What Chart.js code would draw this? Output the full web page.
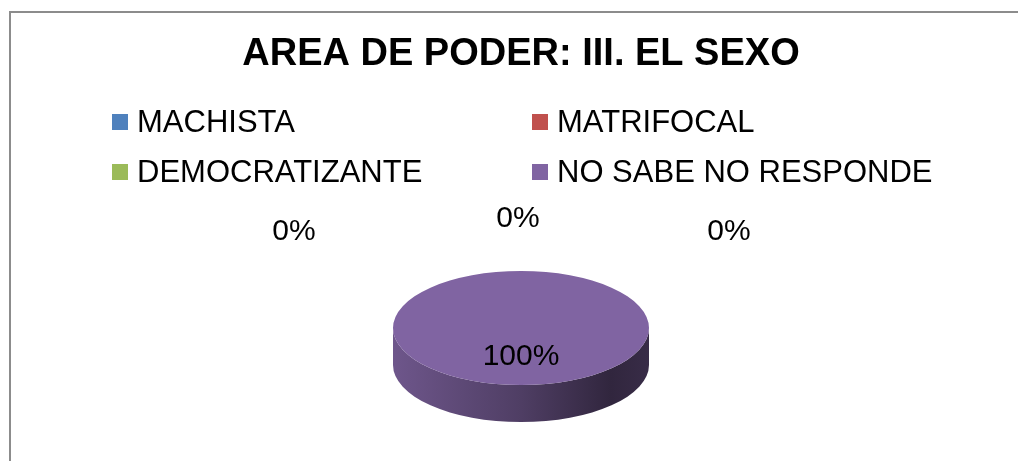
<!DOCTYPE html>
<html>
<head>
<meta charset="utf-8">
<script src="https://cdn.jsdelivr.net/npm/chart.js@4.4.1/dist/chart.umd.min.js"></script>
<style>
  html, body { margin: 0; padding: 0; background: #fff; }
  #wrap { position: relative; width: 1018px; height: 461px; overflow: hidden; }
  #frame { position: absolute; left: 9px; top: 11px; width: 1100px; height: 600px;
           border-left: 2px solid #8c8c8c; border-top: 2px solid #8c8c8c; pointer-events: none; }
  canvas { position: absolute; left: 0; top: 0; }
</style>
</head>
<body>
<div id="wrap">
  <canvas id="c" width="1018" height="461"></canvas>
  <div id="frame"></div>
</div>
<script>
// ---- data ----
const titleText = 'AREA DE PODER: III. EL SEXO';
const categories = ['MACHISTA', 'MATRIFOCAL', 'DEMOCRATIZANTE', 'NO SABE NO RESPONDE'];
const values = [0, 0, 0, 100];
const sliceColors = ['#4F81BD', '#C0504D', '#9BBB59', '#8064A2'];

// ---- look ----
const FONT = '"Liberation Sans", Arial, Helvetica, sans-serif';
const TILT = 57 / 128;      // vertical squash of the pie
const DEPTH = 37;           // side thickness in screen px

function shade(hex, f) {
  const n = parseInt(hex.slice(1), 16);
  const r = Math.round(((n >> 16) & 255) * f), g = Math.round(((n >> 8) & 255) * f), b = Math.round((n & 255) * f);
  return `rgb(${r},${g},${b})`;
}

const pie3d = {
  id: 'pie3d',
  beforeDatasetsDraw(chart) {
    const ctx = chart.ctx;
    const meta = chart.getDatasetMeta(0);
    const a0 = meta.data[0];
    const cx = a0.x, cy = a0.y;
    ctx.save();
    ctx.translate(0, cy);
    ctx.scale(1, TILT);
    ctx.translate(0, -cy);
    const D = DEPTH / TILT;
    meta.data.forEach((arc, i) => {
      const s = arc.startAngle, e = arc.endAngle, r = arc.outerRadius;
      if (e - s <= 0) return;
      const TWO = Math.PI * 2;
      for (let k = Math.floor(s / TWO) - 1; k <= Math.floor(e / TWO) + 1; k++) {
        const a = Math.max(s, TWO * k), b = Math.min(e, TWO * k + Math.PI);
        if (b <= a) continue;
        const g = ctx.createLinearGradient(cx - r, 0, cx + r, 0);
        const base = sliceColors[i];
        g.addColorStop(0, shade(base, 0.86));
        g.addColorStop(0.5, shade(base, 0.62));
        g.addColorStop(0.85, shade(base, 0.38));
        g.addColorStop(1, shade(base, 0.44));
        ctx.beginPath();
        ctx.arc(cx, cy + D, r, a, b, false);
        ctx.arc(cx, cy, r, b, a, true);
        ctx.closePath();
        ctx.fillStyle = g;
        ctx.fill();
      }
    });
  },
  afterDatasetsDraw(chart) {
    const ctx = chart.ctx;
    ctx.restore();
    // percentage labels
    const meta = chart.getDatasetMeta(0);
    const total = values.reduce((p, v) => p + v, 0);
    const zeroSpots = [[-227, -96], [-3, -109], [208, -96]];
    let zi = 0;
    ctx.save();
    ctx.font = '30px ' + FONT;
    ctx.fillStyle = '#000';
    ctx.textAlign = 'center';
    ctx.textBaseline = 'middle';
    meta.data.forEach((arc, i) => {
      const pct = Math.round(values[i] / total * 100) + '%';
      let x, y;
      if (values[i] === 0) {
        const o = zeroSpots[zi++ % zeroSpots.length];
        x = arc.x + o[0]; y = arc.y + o[1];
      } else {
        const m = (arc.startAngle + arc.endAngle) / 2;
        const rr = arc.outerRadius * 0.5;
        x = arc.x + rr * Math.cos(m);
        y = arc.y + rr * Math.sin(m) * TILT;
      }
      ctx.fillText(pct, x, y);
    });
    ctx.restore();
  },
  afterDraw(chart) {
    // legend in two columns
    const ctx = chart.ctx;
    const colX = [112, 532], rowY = [122, 172];
    ctx.save();
    ctx.font = '31px ' + FONT;
    ctx.textBaseline = 'middle';
    ctx.textAlign = 'left';
    categories.forEach((lab, i) => {
      const x = colX[i % 2], y = rowY[Math.floor(i / 2)];
      ctx.fillStyle = sliceColors[i];
      ctx.fillRect(x, y - 8, 16, 16);
      ctx.fillStyle = '#000';
      ctx.fillText(lab, x + 25, y + 1);
    });
    ctx.restore();
  }
};

new Chart(document.getElementById('c'), {
  type: 'pie',
  data: {
    labels: categories,
    datasets: [{
      data: values,
      backgroundColor: sliceColors,
      borderWidth: 0,
      clip: false
    }]
  },
  options: {
    responsive: false,
    animation: false,
    events: [],
    layout: { padding: { left: 24, right: 0, top: 0, bottom: 5 } },
    plugins: {
      legend: { display: false },
      tooltip: { enabled: false },
      title: {
        display: true,
        text: titleText,
        color: '#000',
        font: { family: FONT, size: 38, weight: 'bold', lineHeight: 1.2 },
        padding: { top: 32, bottom: 122.4 }
      }
    }
  },
  plugins: [pie3d]
});
</script>
</body>
</html>
